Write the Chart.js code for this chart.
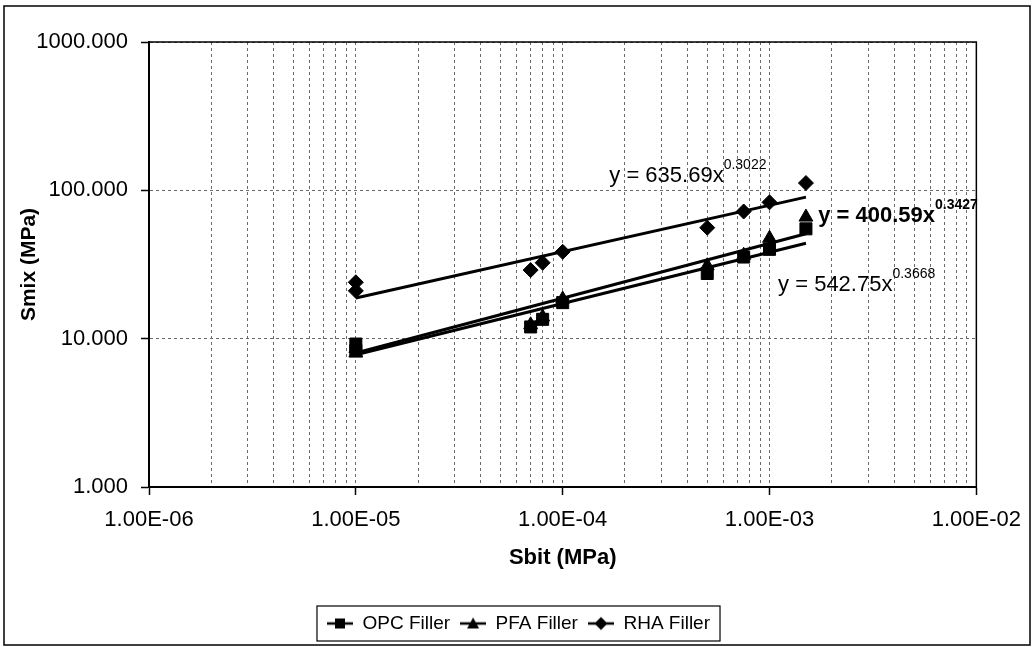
<!DOCTYPE html>
<html>
<head>
<meta charset="utf-8">
<script src="https://cdn.jsdelivr.net/npm/chart.js@4/dist/chart.umd.min.js"></script>
<style>
  html, body { margin: 0; padding: 0; background: #fff; }
</style>
</head>
<body>
<canvas id="grafico" width="1033" height="647"></canvas>
<script>
// valores (Sbit x Smix, escala log-log)
const sbit = [1e-5, 1e-5, 7e-5, 8e-5, 1e-4, 5e-4, 7.5e-4, 1e-3, 1.5e-3];
const opcFiller = [9.2, 8.3, 12.0, 13.5, 17.5, 27.5, 35.5, 40.0, 55.0];
const pfaFiller = [8.6, 8.0, 12.4, 14.0, 18.5, 31.0, 36.5, 47.5, 66.0];
const rhaFiller = [24.0, 21.0, 29.0, 32.5, 38.5, 56.0, 72.0, 83.0, 112.0];

// linhas de tendencia (extremos)
const trendX = [1e-5, 1.5e-3];
const opcTrend = [7.8, 44.0];
const pfaTrend = [8.0, 51.0];
const rhaTrend = [18.8, 90.0];

const seriesNames = ["OPC Filler", "PFA Filler", "RHA Filler"];
const yTicks = [1, 10, 100, 1000];
const xDecades = [1e-6, 1e-5, 1e-4, 1e-3, 1e-2];

const equacoes = [
  { base: "y = 635.69x", exp: "0.3022", x: 1.68e-4, y: 113.8, bold: false },
  { base: "y = 400.59x", exp: "0.3427", x: 1.72e-3, y: 61.1, bold: true },
  { base: "y = 542.75x", exp: "0.3668", x: 1.10e-3, y: 20.9, bold: false },
];

const FONTE = "'Liberation Sans', Arial, sans-serif";
Chart.defaults.font.family = FONTE;
Chart.defaults.color = "#000";

function toPoints(xs, ys) {
  return xs.map((x, i) => ({ x: x, y: ys[i] }));
}

function isDecade(v) {
  const l = Math.log10(v);
  return Math.abs(l - Math.round(l)) < 1e-9;
}

function fmtE(v) {
  const [m, e] = v.toExponential(2).split("e");
  const n = parseInt(e, 10);
  return m.toUpperCase() + "E" + (n < 0 ? "-" : "+") + String(Math.abs(n)).padStart(2, "0");
}

// simbolos da legenda: linha com marcador
function legendSymbol(kind) {
  const c = document.createElement("canvas");
  c.width = 26;
  c.height = 16;
  const g = c.getContext("2d");
  g.strokeStyle = "#000";
  g.lineWidth = 2.5;
  g.beginPath();
  g.moveTo(0, 8);
  g.lineTo(26, 8);
  g.stroke();
  g.fillStyle = "#000";
  g.beginPath();
  if (kind === "rect") {
    g.rect(8, 3, 10, 10);
  } else if (kind === "triangle") {
    g.moveTo(13, 2);
    g.lineTo(19, 13);
    g.lineTo(7, 13);
  } else {
    g.moveTo(13, 1.5);
    g.lineTo(19.5, 8);
    g.lineTo(13, 14.5);
    g.lineTo(6.5, 8);
  }
  g.closePath();
  g.fill();
  return c;
}
const symbols = [legendSymbol("rect"), legendSymbol("triangle"), legendSymbol("diamond")];

const molduras = {
  id: "molduras",
  beforeDraw(chart) {
    const ctx = chart.ctx;
    ctx.save();
    ctx.fillStyle = "#fff";
    ctx.fillRect(0, 0, chart.width, chart.height);
    ctx.restore();
  },
  afterDraw(chart) {
    const ctx = chart.ctx;
    const a = chart.chartArea;
    ctx.save();
    ctx.strokeStyle = "#000";
    ctx.lineWidth = 1.5;
    ctx.strokeRect(a.left, a.top, a.right - a.left, a.bottom - a.top);
    // borda externa
    ctx.strokeRect(4, 6, chart.width - 7, chart.height - 8);
    // caixa da legenda
    const boxes = chart.legend.legendHitBoxes;
    if (boxes && boxes.length) {
      const l = Math.min(...boxes.map((b) => b.left));
      const r = Math.max(...boxes.map((b) => b.left + b.width));
      const t = Math.min(...boxes.map((b) => b.top));
      const b2 = Math.max(...boxes.map((b) => b.top + b.height));
      ctx.lineWidth = 1.2;
      ctx.strokeRect(l - 10, t - 8, r - l + 20, b2 - t + 16);
    }
    ctx.restore();
  },
};

const rotulosEquacao = {
  id: "rotulosEquacao",
  afterDatasetsDraw(chart) {
    const ctx = chart.ctx;
    const xs = chart.scales.x;
    const ys = chart.scales.y;
    ctx.save();
    ctx.fillStyle = "#000";
    ctx.textBaseline = "alphabetic";
    ctx.textAlign = "left";
    equacoes.forEach((eq) => {
      const px = xs.getPixelForValue(eq.x);
      const py = ys.getPixelForValue(eq.y);
      ctx.font = (eq.bold ? "bold " : "") + "22px " + FONTE;
      ctx.fillText(eq.base, px, py);
      const w = ctx.measureText(eq.base).width;
      ctx.font = (eq.bold ? "bold " : "") + "14px " + FONTE;
      ctx.fillText(eq.exp, px + w, py - 13);
    });
    ctx.restore();
  },
};

const grafico = new Chart(document.getElementById("grafico"), {
  type: "scatter",
  data: {
    datasets: [
      {
        label: seriesNames[0],
        data: toPoints(sbit, opcFiller),
        pointStyle: "rect",
        pointRadius: 8.5,
        backgroundColor: "#000",
        borderColor: "#000",
        borderWidth: 1,
      },
      {
        label: seriesNames[1],
        data: toPoints(sbit, pfaFiller),
        pointStyle: "triangle",
        pointRadius: 8,
        backgroundColor: "#000",
        borderColor: "#000",
        borderWidth: 1,
      },
      {
        label: seriesNames[2],
        data: toPoints(sbit, rhaFiller),
        pointStyle: "rectRot",
        pointRadius: 7.5,
        backgroundColor: "#000",
        borderColor: "#000",
        borderWidth: 1,
      },
      {
        label: "trend OPC",
        data: toPoints(trendX, opcTrend),
        showLine: true,
        pointRadius: 0,
        borderColor: "#000",
        borderWidth: 3,
      },
      {
        label: "trend PFA",
        data: toPoints(trendX, pfaTrend),
        showLine: true,
        pointRadius: 0,
        borderColor: "#000",
        borderWidth: 3,
      },
      {
        label: "trend RHA",
        data: toPoints(trendX, rhaTrend),
        showLine: true,
        pointRadius: 0,
        borderColor: "#000",
        borderWidth: 3,
      },
    ],
  },
  options: {
    responsive: false,
    animation: false,
    devicePixelRatio: 1,
    layout: { padding: { left: 8, right: 4, top: 42, bottom: 4 } },
    plugins: {
      tooltip: { enabled: false },
      legend: {
        position: "bottom",
        labels: {
          usePointStyle: true,
          pointStyleWidth: 26,
          padding: 10,
          font: { size: 19 },
          color: "#000",
          generateLabels: () =>
            seriesNames.map((name, i) => ({
              text: name,
              pointStyle: symbols[i],
              fillStyle: "#000",
              strokeStyle: "#000",
              lineWidth: 0,
              hidden: false,
              datasetIndex: i,
            })),
        },
      },
    },
    scales: {
      x: {
        type: "logarithmic",
        position: "bottom",
        min: 1e-6,
        max: 1e-2,
        afterBuildTicks: (scale) => {
          const t = [];
          xDecades.forEach((d, i) => {
            if (i < xDecades.length - 1) {
              for (let m = 1; m <= 9; m++) t.push({ value: m * d });
            } else {
              t.push({ value: d });
            }
          });
          scale.ticks = t;
        },
        afterFit: (scale) => {
          scale.height = 647 - 4 - scale.chart.legend.height - 487;
        },
        ticks: {
          autoSkip: false,
          maxRotation: 0,
          padding: 12,
          font: { size: 22 },
          color: "#000",
          callback: (v) => (isDecade(v) ? fmtE(v) : ""),
        },
        grid: {
          color: "#6a6a6a",
          lineWidth: 1,
          drawTicks: true,
          tickLength: 8,
          tickColor: (ctx) => (ctx.tick && isDecade(ctx.tick.value) ? "#000" : "rgba(0,0,0,0)"),
          tickWidth: 1.5,
        },
        border: { display: true, color: "#000", width: 2, dash: [3, 3] },
        title: {
          display: true,
          text: "Sbit (MPa)",
          font: { size: 22, weight: "bold" },
          color: "#000",
          padding: { top: 0, bottom: 33 },
        },
      },
      y: {
        type: "logarithmic",
        position: "left",
        min: 1,
        max: 1000,
        afterBuildTicks: (scale) => {
          scale.ticks = yTicks.map((v) => ({ value: v }));
        },
        afterFit: (scale) => {
          scale.width = 141;
        },
        ticks: {
          autoSkip: false,
          padding: 13,
          font: { size: 22 },
          color: "#000",
          callback: (v) => Number(v).toFixed(3),
        },
        grid: {
          color: "#6a6a6a",
          lineWidth: 1,
          drawTicks: true,
          tickLength: 8,
          tickColor: "#000",
          tickWidth: 1.5,
        },
        border: { display: true, color: "#000", width: 2, dash: [3, 3] },
        title: {
          display: true,
          text: "Smix (MPa)",
          font: { size: 21, weight: "bold" },
          color: "#000",
          padding: { top: 9, bottom: 0 },
        },
      },
      // eixo vazio so para reservar a margem direita
      margemDireita: {
        type: "linear",
        position: "right",
        display: true,
        ticks: { display: false },
        grid: { display: false, drawTicks: false },
        border: { display: false },
        afterFit: (scale) => {
          scale.width = 48;
        },
      },
    },
  },
  plugins: [molduras, rotulosEquacao],
});
</script>
</body>
</html>
